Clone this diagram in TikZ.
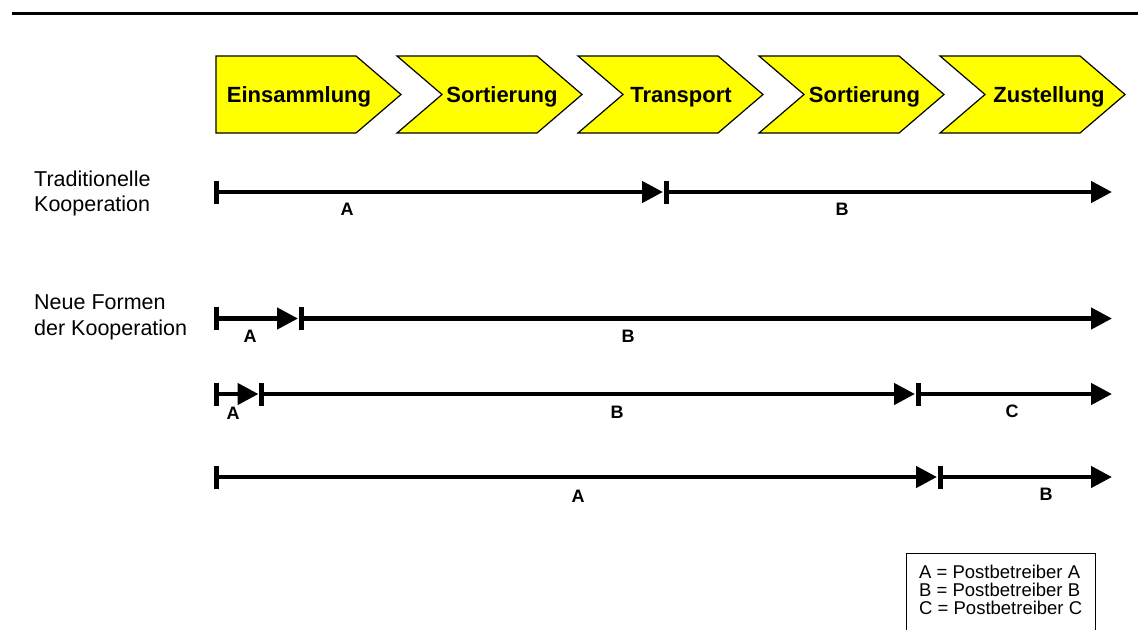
\documentclass[tikz,border=0pt]{standalone}
\usepackage{fontspec}
\setmainfont{Liberation Sans}
\usetikzlibrary{arrows.meta}
\definecolor{phasefill}{RGB}{255,255,0}

\begin{document}
\begin{tikzpicture}[x=1pt, y=-1pt]
            \tikzset{phase/.style={draw=black, line width=1.2pt, line join=miter, fill=phasefill}}
            \tikzset{phase text/.style={font=\bfseries\fontsize{22}{26}\selectfont, inner sep=0pt, anchor=base}}
            \tikzset{share/.style={line width=4.5pt, {Bar[width=23pt, line width=5pt]}-{Triangle[length=21pt, width=21pt]}}}
            \tikzset{share label/.style={font=\bfseries\fontsize{18}{20}\selectfont, inner sep=0pt}}
            \tikzset{row label/.style={font=\fontsize{21.5}{25}\selectfont, align=left, anchor=north west, inner sep=0pt}}
            \useasboundingbox (0, 0) rectangle (1138, 630);
            \draw[line width=3pt] (12, 13) -- (1138, 13);

            % value chain
            \draw[phase] (216, 56) -- (356, 56) -- (401, 94.5) -- (356, 133) -- (216, 133) -- cycle;
            \draw[phase] (397, 56) -- (537, 56) -- (582, 94.5) -- (537, 133) -- (397, 133) -- (442, 94.5) -- cycle;
            \draw[phase] (578, 56) -- (718, 56) -- (763, 94.5) -- (718, 133) -- (578, 133) -- (623, 94.5) -- cycle;
            \draw[phase] (759, 56) -- (899, 56) -- (944, 94.5) -- (899, 133) -- (759, 133) -- (804, 94.5) -- cycle;
            \draw[phase] (940, 56) -- (1080, 56) -- (1125, 94.5) -- (1080, 133) -- (940, 133) -- (985, 94.5) -- cycle;
            \node[phase text] (einsammlung) at (299, 102.5) {Einsammlung};
            \node[phase text] (sortierung1) at (502, 102.5) {Sortierung};
            \node[phase text] (transport) at (681, 102.5) {Transport};
            \node[phase text] (sortierung2) at (864.5, 102.5) {Sortierung};
            \node[phase text] (zustellung) at (1049, 102.5) {Zustellung};

            % row labels
            \node[row label] (traditionell) at (34, 170.5) {Traditionelle\\Kooperation};
            \node[row label] (neu) at (34, 295) {Neue Formen\\der Kooperation};

            % traditionelle Kooperation
            \coordinate (r1s) at (213.5, 192);
            \coordinate (r1a) at (663, 192);
            \coordinate (r1b) at (663.5, 192);
            \coordinate (r1e) at (1112, 192);
            \draw[share] (r1s) -- (r1a);
            \draw[share] (r1b) -- (r1e);
            \node[share label] (r1labA) at (347, 209.5) {A};
            \node[share label] (r1labB) at (842, 209.5) {B};

            % neue Formen
            \coordinate (r2s) at (213.5, 318.5);
            \coordinate (r2a) at (298, 318.5);
            \coordinate (r2b) at (298.5, 318.5);
            \coordinate (r2e) at (1112, 318.5);
            \draw[share] (r2s) -- (r2a);
            \draw[share] (r2b) -- (r2e);
            \node[share label] (r2labA) at (250, 336.5) {A};
            \node[share label] (r2labB) at (628, 336) {B};

            \coordinate (r3s) at (213.5, 394);
            \coordinate (r3a) at (258.5, 394);
            \coordinate (r3b) at (259, 394);
            \coordinate (r3c) at (915, 394);
            \coordinate (r3d) at (915.5, 394);
            \coordinate (r3e) at (1112, 394);
            \draw[share] (r3s) -- (r3a);
            \draw[share] (r3b) -- (r3c);
            \draw[share] (r3d) -- (r3e);
            \node[share label] (r3labA) at (233, 413.5) {A};
            \node[share label] (r3labB) at (617, 412) {B};
            \node[share label] (r3labC) at (1012, 411) {C};

            \coordinate (r4s) at (213.5, 477);
            \coordinate (r4a) at (937, 477);
            \coordinate (r4b) at (937.5, 477);
            \coordinate (r4e) at (1112, 477);
            \draw[share] (r4s) -- (r4a);
            \draw[share] (r4b) -- (r4e);
            \node[share label] (r4labA) at (578, 496) {A};
            \node[share label] (r4labB) at (1046, 494) {B};

            % legend
            \draw[line width=1pt] (906, 630) -- (906, 553) -- (1095, 553) -- (1095, 630);
            \node[font=\fontsize{18.5}{18}\selectfont, align=left, anchor=north west, inner sep=0pt] (legende) at (919, 564.5)
                {A = Postbetreiber A\\B = Postbetreiber B\\C = Postbetreiber C};
        \end{tikzpicture}
\end{document}
